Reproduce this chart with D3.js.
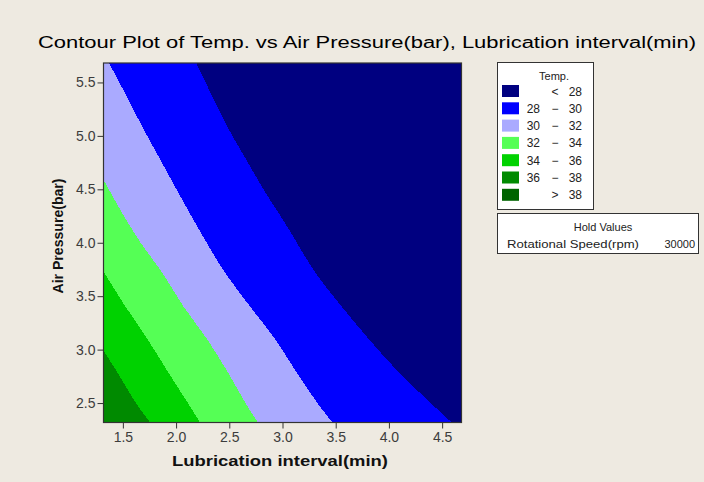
<html>
<head>
<meta charset="utf-8">
<title>Contour Plot of Temp.</title>
<script src="https://cdn.jsdelivr.net/npm/d3@7"></script>
<style>
  body { margin: 0; background: #eeeae1; }
  svg text { font-family: "Liberation Sans", Arial, sans-serif; }
</style>
</head>
<body>
<div id="chart"></div>
<script>
// ---- data ----
var title = "Contour Plot of Temp. vs Air Pressure(bar), Lubrication interval(min)";
var xLabel = "Lubrication interval(min)";
var yLabel = "Air Pressure(bar)";
var xDomain = [1.318, 4.682];
var yDomain = [2.318, 5.682];
var xTicks = [1.5, 2.0, 2.5, 3.0, 3.5, 4.0, 4.5];
var yTicks = [2.5, 3.0, 3.5, 4.0, 4.5, 5.0, 5.5];

// contour levels and band colours (lowest band first)
var levels = [28, 30, 32, 34, 36, 38];
var bandColors = ["#000080", "#0000ff", "#aaaaff", "#55ff55", "#00d200", "#008a00", "#006400"];
var bandLabels = [["", "<", "28"], ["28", "\u2212", "30"], ["30", "\u2212", "32"], ["32", "\u2212", "34"],
                  ["34", "\u2212", "36"], ["36", "\u2212", "38"], ["", ">", "38"]];

// contour lines: [lubrication interval, air pressure], top/left end first
var line28 = [[2.19,5.682],[2.48,5.09],[2.64,4.81],[2.84,4.47],[3.02,4.19],[3.31,3.72],
              [3.55,3.41],[3.81,3.10],[4.09,2.79],[4.35,2.54],[4.59,2.318]];
var line30 = [[1.37,5.682],[1.52,5.40],[1.68,5.09],[1.85,4.78],[2.02,4.47],[2.20,4.15],[2.27,4.03],
              [2.46,3.72],[2.69,3.41],[2.93,3.10],[3.13,2.79],[3.35,2.47],[3.47,2.318]];
var line32 = [[1.318,4.59],[1.475,4.31],[1.66,4.01],[1.87,3.72],[2.065,3.41],[2.29,3.10],
              [2.485,2.79],[2.67,2.47],[2.77,2.318]];
var line34 = [[1.318,3.73],[1.52,3.41],[1.73,3.10],[1.925,2.79],[2.13,2.47],[2.225,2.318]];
var line36 = [[1.318,2.99],[1.446,2.79],[1.643,2.47],[1.756,2.318]];
var contourLines = [line28, line30, line32, line34, line36];

var legendTitle = "Temp.";
var holdTitle = "Hold Values";
var holdName = "Rotational Speed(rpm)";
var holdValue = "30000";

// ---- drawing ----
var W = 704, H = 482;
var svg = d3.select("#chart").append("svg")
    .attr("width", W).attr("height", H);

svg.append("rect").attr("width", W).attr("height", H).attr("fill", "#eeeae1");

var x = d3.scaleLinear().domain(xDomain).range([103.5, 461.5]);
var y = d3.scaleLinear().domain(yDomain).range([422.5, 63]);

svg.append("defs").append("clipPath").attr("id", "plotclip")
  .append("rect")
    .attr("x", x(xDomain[0])).attr("y", y(yDomain[1]))
    .attr("width", x(xDomain[1]) - x(xDomain[0]))
    .attr("height", y(yDomain[0]) - y(yDomain[1]));

var plot = svg.append("g").attr("clip-path", "url(#plotclip)");

// lowest band fills the whole area
plot.append("rect")
    .attr("x", x(xDomain[0])).attr("y", y(yDomain[1]))
    .attr("width", x(xDomain[1]) - x(xDomain[0]))
    .attr("height", y(yDomain[0]) - y(yDomain[1]))
    .attr("fill", bandColors[0]);

// each higher band lies to the lower-left of its contour line
var curve = d3.line()
    .x(function(d) { return x(d[0]); })
    .y(function(d) { return y(d[1]); })
    .curve(d3.curveCatmullRom);

contourLines.forEach(function(pts, i) {
  var corners = [[xDomain[0], yDomain[0]], [xDomain[0], pts[0][1]]];
  var d = curve(pts) + corners.map(function(c) { return "L" + x(c[0]) + "," + y(c[1]); }).join("") + "Z";
  plot.append("path")
    .attr("d", d)
    .attr("fill", bandColors[i + 1])
    .attr("shape-rendering", "crispEdges");
});

// frame
svg.append("rect")
    .attr("x", x(xDomain[0])).attr("y", y(yDomain[1]))
    .attr("width", x(xDomain[1]) - x(xDomain[0]))
    .attr("height", y(yDomain[0]) - y(yDomain[1]))
    .attr("fill", "none").attr("stroke", "#333").attr("stroke-width", 1.2);

// axes
var xAxis = svg.append("g")
    .attr("transform", "translate(0," + y(yDomain[0]) + ")")
    .call(d3.axisBottom(x).tickValues(xTicks).tickSize(6).tickPadding(4).tickFormat(d3.format(".1f")));
var yAxis = svg.append("g")
    .attr("transform", "translate(" + x(xDomain[0]) + ",0)")
    .call(d3.axisLeft(y).tickValues(yTicks).tickSize(6).tickPadding(2).tickFormat(d3.format(".1f")));

[xAxis, yAxis].forEach(function(a) {
  a.select(".domain").remove();
  a.selectAll("line").attr("stroke", "#333");
  a.selectAll("text")
    .attr("fill", "#3c3c3c")
    .style("font-size", "14px")
    .style("font-family", "'Liberation Sans', Arial, sans-serif");
});

// title and axis labels
svg.append("text")
    .attr("x", 367).attr("y", 48)
    .attr("text-anchor", "middle")
    .attr("textLength", 658).attr("lengthAdjust", "spacingAndGlyphs")
    .style("font-size", "16px").attr("fill", "#000")
    .text(title);

svg.append("text")
    .attr("x", 280).attr("y", 466)
    .attr("text-anchor", "middle")
    .attr("textLength", 216).attr("lengthAdjust", "spacingAndGlyphs")
    .style("font-size", "15px").style("font-weight", "bold").attr("fill", "#111")
    .text(xLabel);

svg.append("text")
    .attr("transform", "translate(63," + 236 + ") rotate(-90)")
    .attr("text-anchor", "middle")
    .attr("textLength", 115).attr("lengthAdjust", "spacingAndGlyphs")
    .style("font-size", "15px").style("font-weight", "bold").attr("fill", "#111")
    .text(yLabel);

// legend
var lg = svg.append("g");
lg.append("rect")
    .attr("x", 497.5).attr("y", 62.5).attr("width", 96).attr("height", 147)
    .attr("fill", "#fff").attr("stroke", "#333");
lg.append("text")
    .attr("x", 554).attr("y", 80).attr("text-anchor", "middle")
    .style("font-size", "11px").attr("fill", "#222")
    .text(legendTitle);

bandColors.forEach(function(c, i) {
  var ry = 85 + i * 17.3;
  lg.append("rect")
    .attr("x", 502).attr("y", ry).attr("width", 17).attr("height", 12)
    .attr("fill", c);
  var lab = bandLabels[i];
  lg.append("text").attr("x", 540).attr("y", ry + 10.5).attr("text-anchor", "end")
    .style("font-size", "12px").attr("fill", "#222").text(lab[0]);
  lg.append("text").attr("x", 555).attr("y", ry + 10.5).attr("text-anchor", "middle")
    .style("font-size", "12px").attr("fill", "#222").text(lab[1]);
  lg.append("text").attr("x", 582).attr("y", ry + 10.5).attr("text-anchor", "end")
    .style("font-size", "12px").attr("fill", "#222").text(lab[2]);
});

// hold values box
var hv = svg.append("g");
hv.append("rect")
    .attr("x", 497.5).attr("y", 213.5).attr("width", 201).attr("height", 40)
    .attr("fill", "#fff").attr("stroke", "#333");
hv.append("text")
    .attr("x", 603).attr("y", 231).attr("text-anchor", "middle")
    .style("font-size", "11px").attr("fill", "#222")
    .text(holdTitle);
hv.append("text")
    .attr("x", 507).attr("y", 248)
    .attr("textLength", 132).attr("lengthAdjust", "spacingAndGlyphs")
    .style("font-size", "11px").attr("fill", "#222")
    .text(holdName);
hv.append("text")
    .attr("x", 695).attr("y", 248).attr("text-anchor", "end")
    .style("font-size", "11px").attr("fill", "#222")
    .text(holdValue);
</script>
</body>
</html>
